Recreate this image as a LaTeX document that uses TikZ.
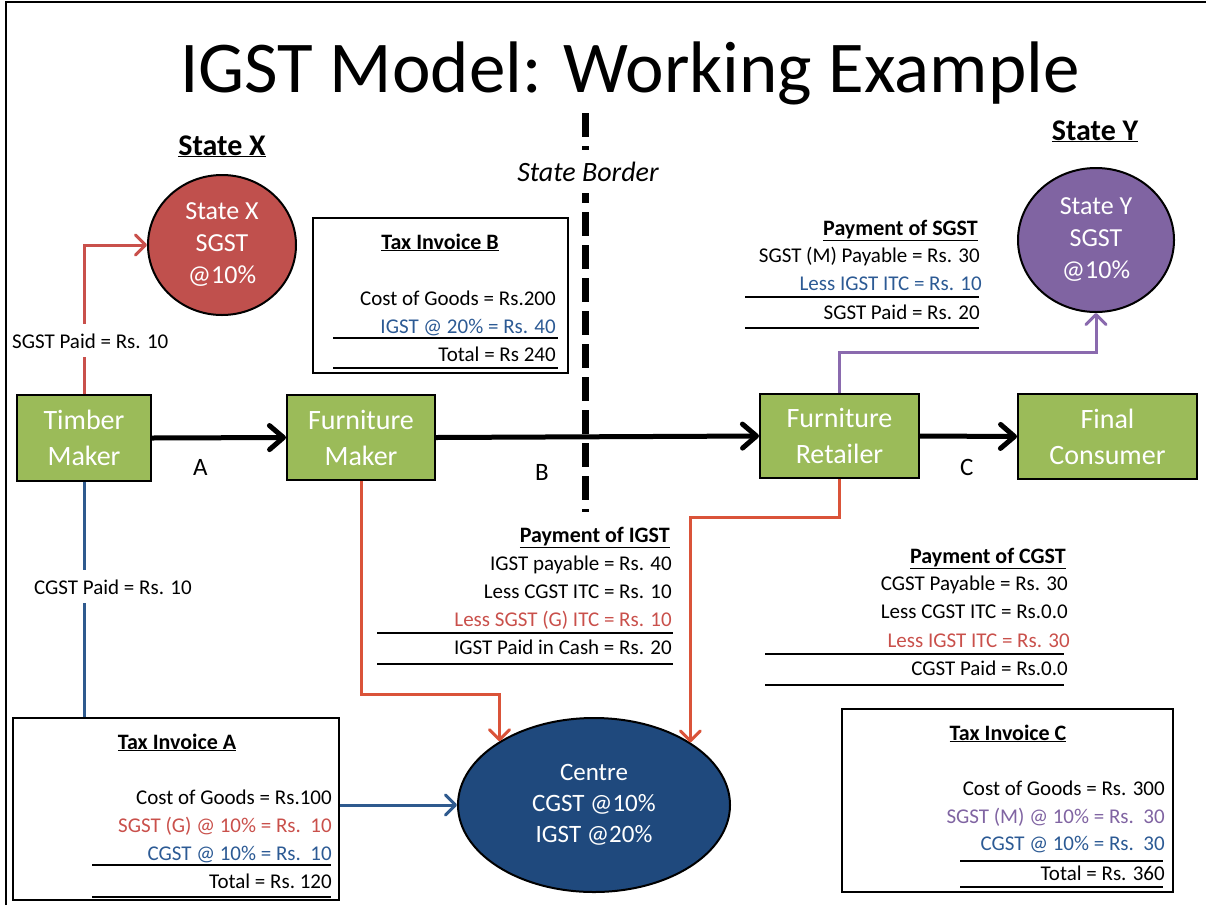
\documentclass[tikz,border=0pt]{standalone}
\usepackage{fontspec}
\setmainfont{Carlito}
\usetikzlibrary{arrows.meta,shapes.geometric}
\definecolor{gboxfill}{HTML}{9BBB59}
\definecolor{cred}{HTML}{C0504D}
\definecolor{cpurple}{HTML}{8064A2}
\definecolor{cnavy}{HTML}{1F497D}
\definecolor{tblue}{HTML}{2C5A94}
\definecolor{tred}{HTML}{C9504B}
\definecolor{tpurple}{HTML}{8064A2}
\definecolor{lred}{HTML}{DA5339}
\definecolor{lsgst}{HTML}{C9504B}
\definecolor{lblue}{HTML}{2F5A8E}
\definecolor{lpurple}{HTML}{8A6AAE}
\begin{document}
\begin{tikzpicture}[x=1pt,y=-1pt,
  gbox/.style={draw=black, line width=2pt, fill=gboxfill, text=white, align=center,
    inner sep=0pt, font=\fontsize{28}{36}\selectfont},
  bubble/.style={ellipse, draw=black, line width=2pt, text=white, align=center, inner sep=0pt},
  invbox/.style={draw=black, line width=2pt, inner sep=0pt},
  tl/.style={inner sep=0pt, anchor=base east, font=\fontsize{21}{25}\selectfont},
  tb/.style={inner sep=0pt, anchor=base, font=\fontsize{22}{25}\selectfont\bfseries},
  tbr/.style={inner sep=0pt, anchor=base east, font=\fontsize{22}{25}\selectfont\bfseries},
  rule/.style={line width=2pt},
  flow/.style={line width=5pt, -{Straight Barb[length=14pt,width=24pt,round]}},
  cline/.style={line width=3pt, -{Straight Barb[length=10pt,width=20pt,round]}},
  onlabel/.style={fill=white, inner xsep=0pt, inner ysep=9pt, anchor=base west,
    font=\fontsize{21}{25}\selectfont}
]
\useasboundingbox (0,0) rectangle (1206,905);
% frame
\draw[line width=1.5pt] (6,905) -- (6,2) -- (1206,2);

% title
\node[inner sep=0pt, anchor=base, font=\fontsize{73}{80}\selectfont] (title) at (630,92)
  {IGST Model: Working Example};

% state border
\draw[line width=7pt, dash pattern=on 24pt off 9pt] (585,113) -- (585,512);
\node[fill=white, inner xsep=2pt, inner ysep=12pt, anchor=base, font=\fontsize{28}{32}\selectfont\itshape]
  (border) at (588,181) {State Border};

% state headings
\node[inner sep=0pt, anchor=base, font=\fontsize{30}{34}\selectfont\bfseries] (hX) at (222,155) {\underline{State X}};
\node[inner sep=0pt, anchor=base, font=\fontsize{30}{34}\selectfont\bfseries] (hY) at (1095,140) {\underline{State Y}};

% bubbles
\node[bubble, fill=cred, minimum width=148pt, minimum height=140pt, font=\fontsize{26}{32}\selectfont]
  (stateX) at (222,245) {State X\\SGST\\@10\%};
\node[bubble, fill=cpurple, minimum width=156pt, minimum height=144pt, font=\fontsize{26}{32}\selectfont]
  (stateY) at (1096,240) {State Y\\SGST\\@10\%};
\node[bubble, fill=cnavy, minimum width=272pt, minimum height=174pt, font=\fontsize{25}{31}\selectfont]
  (centre) at (594,805) {Centre\\CGST @10\%\\IGST @20\%};

% green boxes
\node[gbox, minimum width=134pt, minimum height=86pt] (timber) at (84,438) {Timber\\Maker};
\node[gbox, minimum width=148pt, minimum height=85pt] (fmaker) at (361,437.5) {Furniture\\Maker};
\node[gbox, minimum width=159pt, minimum height=84pt] (retailer) at (839.5,436) {Furniture\\Retailer};
\node[gbox, minimum width=179pt, minimum height=85pt] (consumer) at (1107.5,436.5) {Final\\Consumer};

% flow labels
\node[inner sep=0pt, anchor=base west, font=\fontsize{25}{30}\selectfont] (lA) at (193,475) {A};
\node[inner sep=0pt, anchor=base west, font=\fontsize{25}{30}\selectfont] (lB) at (535,480) {B};
\node[inner sep=0pt, anchor=base west, font=\fontsize{25}{30}\selectfont] (lC) at (960,475) {C};

% invoice boxes
\node[invbox, minimum width=255pt, minimum height=155pt] (invB) at (440.5,295.5) {};
\node[invbox, minimum width=326pt, minimum height=182pt] (invA) at (176,809) {};
\node[invbox, minimum width=331pt, minimum height=183pt] (invC) at (1007.5,800.5) {};

% Tax invoice B
\node[tb] (b0) at (440,249) {\underline{Tax Invoice B}};
\node[tl] (b1) at (556,305) {Cost of Goods = Rs.200};
\node[tl, text=tblue] (b2) at (556,333) {IGST @ 20\% = Rs. 40};
\draw[rule] (333,338) -- (558,338);
\node[tl] (b3) at (556,361) {Total = Rs 240};
\draw[rule] (333,368) -- (558,368);

% Payment of SGST
\node[tbr] (s0) at (978,235) {\underline{Payment of SGST}};
\node[tl] (s1) at (980,262) {SGST (M) Payable = Rs. 30};
\node[tl, text=tblue] (s2) at (982,290) {Less IGST ITC = Rs. 10};
\draw[rule] (745,297) -- (979,297);
\node[tl] (s3) at (980,319) {SGST Paid = Rs. 20};
\draw[rule] (745,328) -- (979,328);

% Payment of IGST
\node[tbr] (i0) at (670,542) {\underline{Payment of IGST}};
\node[tl] (i1) at (672,570) {IGST payable = Rs. 40};
\node[tl] (i2) at (672,598) {Less CGST ITC = Rs. 10};
\node[tl, text=tred] (i3) at (672,626) {Less SGST (G) ITC = Rs. 10};
\draw[rule] (377,633) -- (673,633);
\node[tl] (i4) at (672,654) {IGST Paid in Cash = Rs. 20};
\draw[rule] (377,664) -- (673,664);

% Payment of CGST
\node[tbr] (g0) at (1066,563) {\underline{Payment of CGST}};
\node[tl] (g1) at (1068,590) {CGST Payable = Rs. 30};
\node[tl] (g2) at (1068,618) {Less CGST ITC = Rs.0.0};
\node[tl, text=tred] (g3) at (1070,647) {Less IGST ITC = Rs. 30};
\draw[rule] (765,654) -- (1064,654);
\node[tl] (g4) at (1068,675) {CGST Paid = Rs.0.0};
\draw[rule] (765,685) -- (1064,685);

% Tax invoice A
\node[tb] (a0) at (177,749) {\underline{Tax Invoice A}};
\node[tl] (a1) at (332,804) {Cost of Goods = Rs.100};
\node[tl, text=tred] (a2) at (332,832) {SGST (G) @ 10\% = Rs.\ \ 10};
\node[tl, text=tblue] (a3) at (332,860) {CGST @ 10\% = Rs.\ \ 10};
\draw[rule] (92,865) -- (331,865);
\node[tl] (a4) at (332,888) {Total = Rs.\ 120};
\draw[rule] (92,897) -- (331,897);

% Tax invoice C
\node[tb] (c0) at (1008,740) {\underline{Tax Invoice C}};
\node[tl] (c1) at (1165,795) {Cost of Goods = Rs. 300};
\node[tl, text=tpurple] (c2) at (1165,823) {SGST (M) @ 10\% = Rs.\ \ 30};
\node[tl, text=tblue] (c3) at (1165,850) {CGST @ 10\% = Rs.\ \ 30};
\draw[rule] (960,861) -- (1163,861);
\node[tl] (c4) at (1165,880) {Total = Rs. 360};
\draw[rule] (960,887) -- (1163,887);

% connectors
\draw[flow] (timber.east) -- (fmaker.west);
\draw[flow] (fmaker.east) -- (retailer.west);
\draw[flow] (retailer.east) -- (consumer.west);

\draw[cline, lsgst] (timber.north) |- (stateX.west);
\coordinate (rp) at (839.5,352);
\draw[cline, lpurple] (retailer.north) -- (rp) -| (stateY.south);
\draw[line width=3pt, lblue] (timber.south) -- (timber.south |- invA.north);
\coordinate (fm) at (361,694);
\draw[cline, lred] (fmaker.south) -- (fm) -| (centre.146);
\coordinate (rt) at (839.5,517);
\draw[cline, lred] (retailer.south) -- (rt) -| (centre.33);
\draw[cline, lblue] (invA.east |- centre.west) -- (centre.west);

% labels on lines
\node[onlabel] (sgstpaid) at (12,348) {SGST Paid = Rs. 10};
\node[onlabel] (cgstpaid) at (34,594) {CGST Paid = Rs. 10};
\end{tikzpicture}
\end{document}
